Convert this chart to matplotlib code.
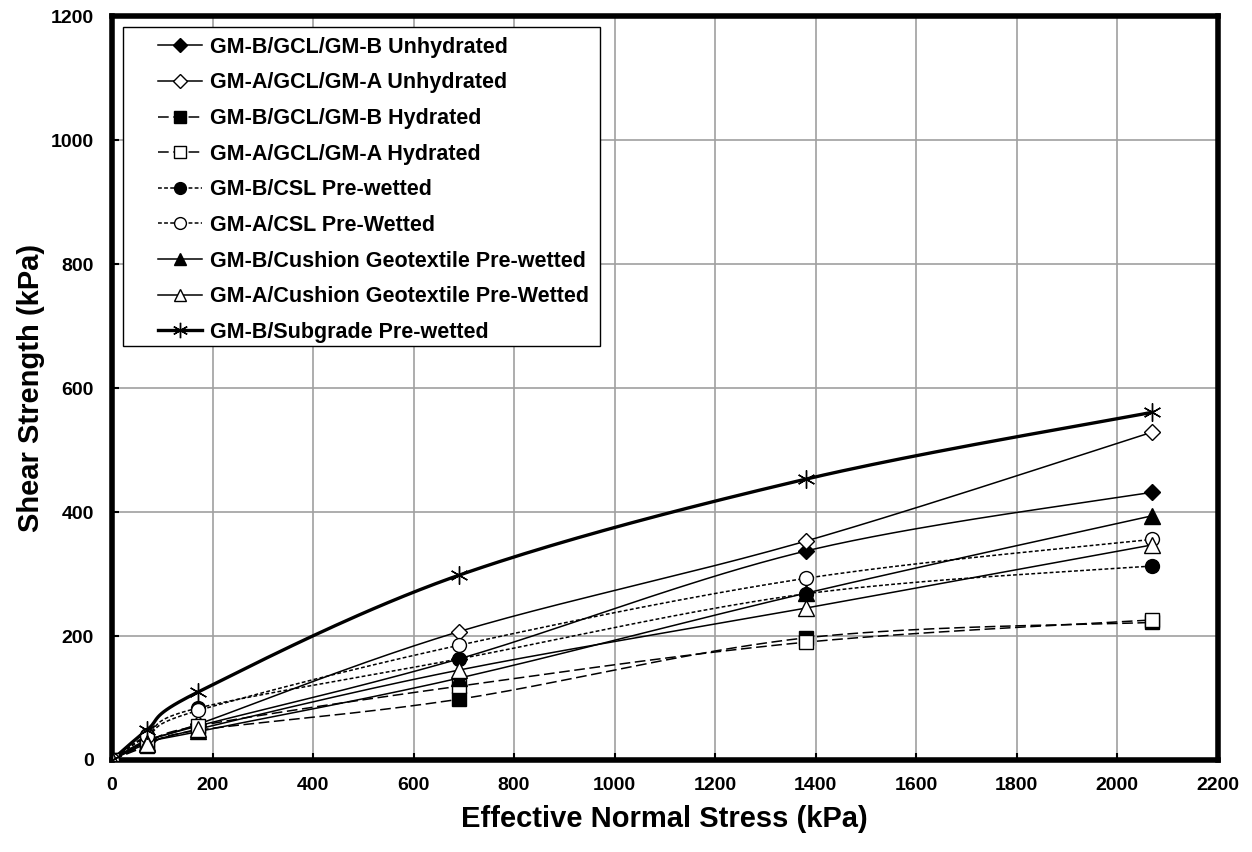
import numpy as np
import matplotlib
matplotlib.use("Agg")
import matplotlib.pyplot as plt
from matplotlib.lines import Line2D
from matplotlib.patches import Rectangle

plt.rcParams['font.family'] = ['Liberation Sans', 'DejaVu Sans']
plt.rcParams['font.weight'] = 'bold'

# normal stress (kPa)
stress = [0, 69, 172, 690, 1380, 2070]

# shear strength (kPa) for each interface
gmb_gcl_unhyd = [0, 30, 55, 163, 337, 432]
gma_gcl_unhyd = [0, 32, 58, 207, 353, 529]
gmb_gcl_hyd = [0, 22, 48, 98, 197, 222]
gma_gcl_hyd = [0, 25, 55, 119, 190, 226]
gmb_csl = [0, 40, 84, 163, 268, 313]
gma_csl = [0, 38, 80, 185, 293, 356]
gmb_cush = [0, 28, 46, 132, 269, 394]
gma_cush = [0, 26, 50, 145, 245, 347]
gmb_subgrade = [0, 48, 110, 298, 453, 561]

labels = ['GM-B/GCL/GM-B Unhydrated', 'GM-A/GCL/GM-A Unhydrated',
          'GM-B/GCL/GM-B Hydrated', 'GM-A/GCL/GM-A Hydrated',
          'GM-B/CSL Pre-wetted', 'GM-A/CSL Pre-Wetted',
          'GM-B/Cushion Geotextile Pre-wetted', 'GM-A/Cushion Geotextile Pre-Wetted',
          'GM-B/Subgrade Pre-wetted']
series = [gmb_gcl_unhyd, gma_gcl_unhyd, gmb_gcl_hyd, gma_gcl_hyd,
          gmb_csl, gma_csl, gmb_cush, gma_cush, gmb_subgrade]

dash_long = (0, (7, 3))
dash_short = (0, (2.5, 1.5))
# (marker, filled, linestyle, linewidth, markersize)
styles = [
    ('D', True, '-', 1.1, 8),
    ('D', False, '-', 1.1, 8),
    ('s', True, dash_long, 1.1, 10),
    ('s', False, dash_long, 1.1, 10),
    ('o', True, dash_short, 1.1, 10),
    ('o', False, dash_short, 1.1, 10),
    ('^', True, '-', 1.1, 11),
    ('^', False, '-', 1.1, 11),
    ((6, 2, 0), False, '-', 2.4, 13),
]


def smooth(x, y, n=40):
    # Excel style smoothed line: bezier segments with 1/6 tangents
    p = np.column_stack([x, y]).astype(float)
    p = np.vstack([p[0], p, p[-1]])
    out = []
    t = np.linspace(0, 1, n)[:, None]
    for i in range(1, len(p) - 2):
        p0, p1 = p[i], p[i + 1]
        c1 = p0 + (p[i + 1] - p[i - 1]) / 6
        c2 = p1 - (p[i + 2] - p[i]) / 6
        seg = ((1 - t) ** 3) * p0 + 3 * ((1 - t) ** 2) * t * c1 + 3 * (1 - t) * t ** 2 * c2 + t ** 3 * p1
        out.append(seg)
    out = np.vstack(out)
    return out[:, 0], out[:, 1]


fig = plt.figure(figsize=(12.52, 8.52), dpi=100)
ax = fig.add_axes([0.0895, 0.108, 0.883, 0.873])

handles = []
for vals, lab, (mk, filled, ls, lw, ms) in zip(series, labels, styles):
    sx, sy = smooth(stress, vals)
    ax.plot(sx, sy, color='black', linestyle=ls, linewidth=lw, zorder=3)
    fc = 'black' if filled else 'white'
    ax.plot(stress, vals, linestyle='none', marker=mk, markersize=ms,
            markerfacecolor=fc, markeredgecolor='black', markeredgewidth=1.0, zorder=4)
    handles.append(Line2D([], [], color='black', linestyle=ls, linewidth=lw,
                          marker=mk, markersize=ms * 0.85, markerfacecolor=fc,
                          markeredgecolor='black', markeredgewidth=1.0))

ax.set_xlim(0, 2200)
ax.set_ylim(0, 1200)
ax.set_xticks(np.arange(0, 2201, 200))
ax.set_yticks(np.arange(0, 1201, 200))
ax.grid(True, color='#a0a0a0', linewidth=1.2)
ax.set_axisbelow(True)
ax.tick_params(direction='in', length=5, width=1.5, labelsize=14)
ax.tick_params(axis='x', pad=12)
ax.tick_params(axis='y', pad=13)
for sp in ax.spines.values():
    sp.set_linewidth(4)

ax.set_xlabel('Effective Normal Stress (kPa)', fontsize=21, fontweight='bold', labelpad=8)
ax.set_ylabel('Shear Strength (kPa)', fontsize=21, fontweight='bold', labelpad=4)

# legend frame drawn separately, legend itself without frame
ax.add_patch(Rectangle((0.0099, 0.5566), 0.4315, 0.4289, transform=ax.transAxes,
                       facecolor='white', edgecolor='black', linewidth=1.0, zorder=5))
leg = ax.legend(handles, labels, loc='upper left', bbox_to_anchor=(0.0416, 0.9723),
                fontsize=15.5, frameon=False, handlelength=2.05, handletextpad=0.37,
                labelspacing=0.68, borderpad=0, borderaxespad=0)
leg.set_zorder(6)
for t in leg.get_texts():
    t.set_fontweight('bold')

fig.savefig('out.png', dpi=100)
